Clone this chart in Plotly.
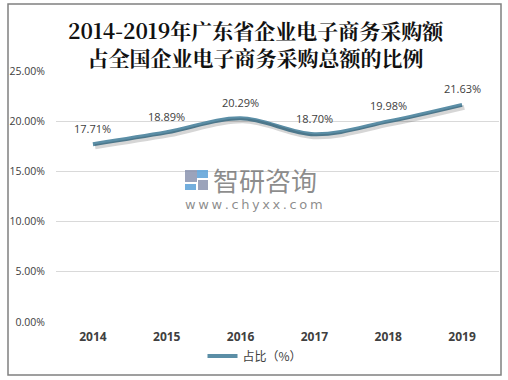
import plotly.graph_objects as go

years = ["2014", "2015", "2016", "2017", "2018", "2019"]
share = [17.71, 18.89, 20.29, 18.70, 19.98, 21.63]
labels = ["17.71%", "18.89%", "20.29%", "18.70%", "19.98%", "21.63%"]
y_ticks = [0, 5, 10, 15, 20, 25]
y_tick_text = ["0.00%", "5.00%", "10.00%", "15.00%", "20.00%", "25.00%"]

W, H = 508, 380
L, R, T, B = 56, 9, 71, 58
PW, PH = W - L - R, H - T - B

def px(x):
    return (x - L) / PW

def py(y):
    return (H - B - y) / PH

LINE = "#5b8ea6"
FONT = "Open Sans, Noto Sans CJK SC, sans-serif"

fig = go.Figure()
# soft shadow under the line
fig.add_trace(go.Scatter(x=years, y=share, mode="lines", xaxis="x2", yaxis="y2",
                         line=dict(color="rgba(0,0,0,0.16)", width=5, shape="spline", smoothing=1),
                         showlegend=False, hoverinfo="skip"))
fig.add_trace(go.Scatter(x=years, y=share, mode="lines", name="占比（%）",
                         line=dict(color=LINE, width=4, shape="spline", smoothing=1)))

annotations = []
for i, (v, t) in enumerate(zip(share, labels)):
    annotations.append(dict(x=i, y=v, xref="x", yref="y", text=t, showarrow=False, yshift=16,
                            font=dict(size=11, color="#404040", family=FONT)))

annotations.append(dict(xref="paper", yref="paper", x=px(256), y=py(43),
                        text="<b>2014-2019年广东省企业电子商务采购额<br>占全国企业电子商务采购总额的比例</b>",
                        showarrow=False, align="center",
                        font=dict(size=21, color="#111111", family="Noto Serif CJK SC, Noto Sans CJK SC"),
                        xanchor="center", yanchor="middle"))
# watermark
annotations.append(dict(xref="paper", yref="paper", x=px(211), y=py(179), text="智研咨询",
                        showarrow=False, xanchor="left", yanchor="middle",
                        font=dict(size=26, color="rgba(120,120,120,0.85)", family="Noto Sans CJK SC")))
annotations.append(dict(xref="paper", yref="paper", x=px(254), y=py(204),
                        text="\u2009".join("www.chyxx.com"),
                        showarrow=False, xanchor="center", yanchor="middle",
                        font=dict(size=13, color="rgba(120,120,120,0.85)", family="DejaVu Sans")))

shapes = [
    dict(type="rect", xref="paper", yref="paper", x0=px(8), x1=px(501), y0=py(375), y1=py(4),
         line=dict(color="#808080", width=1.5), fillcolor="rgba(0,0,0,0)", layer="below"),
    # logo
    dict(type="rect", xref="paper", yref="paper", x0=px(185), x1=px(197), y0=py(182), y1=py(170),
         line=dict(width=0), fillcolor="rgba(130,140,170,0.8)"),
    dict(type="rect", xref="paper", yref="paper", x0=px(197), x1=px(208), y0=py(178), y1=py(170),
         line=dict(width=0), fillcolor="rgba(90,160,215,0.85)"),
    dict(type="rect", xref="paper", yref="paper", x0=px(185), x1=px(196), y0=py(190), y1=py(184),
         line=dict(width=0), fillcolor="rgba(90,160,215,0.85)"),
    dict(type="rect", xref="paper", yref="paper", x0=px(198), x1=px(208), y0=py(190), y1=py(180),
         line=dict(width=0), fillcolor="rgba(130,140,170,0.8)"),
]

fig.update_layout(
    width=W, height=H,
    margin=dict(l=L, r=R, t=T, b=B),
    paper_bgcolor="white", plot_bgcolor="white",
    font=dict(family=FONT),
    showlegend=True,
    legend=dict(orientation="h", x=px(255), xanchor="center", y=py(356), yanchor="middle",
                font=dict(size=12, color="#404040", family="Noto Sans CJK SC"),
                itemwidth=30, bgcolor="rgba(0,0,0,0)"),
    xaxis=dict(type="category", range=[-0.5, 5.5], showgrid=False, showline=False, ticks="",
               tickfont=dict(size=12, color="#404040", family="Open Sans"),
               tickprefix="<b>", ticksuffix="</b>", fixedrange=True, ticklabelstandoff=6),
    yaxis=dict(range=[0, 25], tickvals=y_ticks, ticktext=y_tick_text, showgrid=True,
               gridcolor="#d9d9d9", gridwidth=1, zeroline=False, showline=False,
               tickfont=dict(size=10.5, color="#404040"), ticks="", ticklabelstandoff=10),
    xaxis2=dict(type="category", overlaying="x", range=[-0.53, 5.47], visible=False),
    yaxis2=dict(overlaying="y", range=[0.25, 25.25], visible=False),
    annotations=annotations,
    shapes=shapes,
)

fig.write_html("out.html", config={"displayModeBar": False},
               post_script="document.body.style.margin='0';document.body.style.overflow='hidden';")
